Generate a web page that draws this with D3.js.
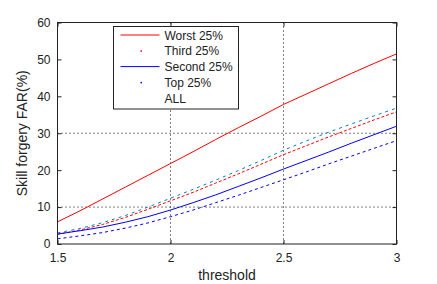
<!DOCTYPE html>
<html>
<head>
<meta charset="utf-8">
<script src="https://cdn.jsdelivr.net/npm/d3@7"></script>
<style>
  body { margin: 0; background: #fff; }
  text { font-family: "Liberation Sans", Arial, sans-serif; fill: #222; }
</style>
</head>
<body>
<svg id="chart" width="437" height="284"></svg>
<script>
// data
const thresholds = [1.5, 1.6, 1.7, 1.8, 1.9, 2.0, 2.1, 2.2, 2.3, 2.4, 2.5, 2.6, 2.7, 2.8, 2.9, 3.0];
const worst  = [6.0, 9.0, 12.2, 15.4, 18.6, 21.8, 25.0, 28.3, 31.5, 34.6, 37.8, 40.6, 43.4, 46.2, 48.9, 51.5];
const third  = [2.6, 3.8, 5.3, 7.2, 9.4, 11.7, 14.0, 16.5, 19.0, 21.6, 24.2, 26.6, 29.0, 31.3, 33.6, 35.8];
const second = [2.7, 3.6, 4.6, 5.9, 7.4, 9.2, 11.2, 13.3, 15.6, 17.9, 20.3, 22.6, 24.9, 27.3, 29.6, 31.9];
const top25  = [1.4, 2.2, 3.1, 4.3, 5.7, 7.4, 9.2, 11.2, 13.2, 15.3, 17.4, 19.5, 21.7, 23.8, 25.9, 28.0];
const all    = [3.0, 4.2, 5.8, 7.7, 10.0, 12.4, 14.8, 17.3, 19.9, 22.6, 25.4, 27.9, 30.3, 32.5, 34.7, 36.8];

const xTicks = [1.5, 2, 2.5, 3];
const yTicks = [0, 10, 20, 30, 40, 50, 60];
const xGrid = [2, 2.5];
const yGrid = [10, 30];

const series = [
    { name: 'Worst 25%',  values: worst,  color: '#ff0000', dash: null,  legend: 'line' },
    { name: 'Third 25%',  values: third,  color: '#ff0000', dash: '3,2', legend: 'dot' },
    { name: 'Second 25%', values: second, color: '#0000ff', dash: null,  legend: 'line' },
    { name: 'Top 25%',    values: top25,  color: '#0000ff', dash: '3,3', legend: 'dot' },
    { name: 'ALL',        values: all,    color: '#0080c0', dash: '3,4', legend: 'none' }
];

const svg = d3.select('#chart');
const margin = { top: 22.5, right: 40.5, bottom: 40, left: 57.5 };
const width = 437 - margin.left - margin.right;
const height = 284 - margin.top - margin.bottom;

const x = d3.scaleLinear().domain([1.5, 3]).range([0, width]);
const y = d3.scaleLinear().domain([0, 60]).range([height, 0]);

const g = svg.append('g')
    .attr('transform', `translate(${margin.left},${margin.top})`);

// dotted grid lines
g.selectAll('.gx').data(xGrid).enter().append('line')
    .attr('x1', d => x(d)).attr('x2', d => x(d))
    .attr('y1', 0).attr('y2', height)
    .attr('stroke', '#000').attr('stroke-width', 1).attr('stroke-dasharray', '1,3');
g.selectAll('.gy').data(yGrid).enter().append('line')
    .attr('x1', 0).attr('x2', width)
    .attr('y1', d => y(d)).attr('y2', d => y(d))
    .attr('stroke', '#000').attr('stroke-width', 1).attr('stroke-dasharray', '1,3');

// series lines
const line = d3.line()
    .x((d, i) => x(thresholds[i]))
    .y(d => y(d));

series.forEach(s => {
    g.append('path')
        .datum(s.values)
        .attr('d', line)
        .attr('fill', 'none')
        .attr('stroke', s.color)
        .attr('stroke-width', 1)
        .attr('stroke-dasharray', s.dash);
});

// axes (inward ticks on all sides)
function styleAxis(sel) {
    sel.select('.domain').remove();
    sel.selectAll('.tick line').attr('stroke', '#222');
    sel.selectAll('.tick text').attr('font-size', '12px').style('fill', '#222');
}
g.append('g')
    .attr('transform', `translate(0,${height})`)
    .call(d3.axisBottom(x).tickValues(xTicks).tickSizeInner(-4).tickSizeOuter(0).tickPadding(9).tickFormat(d3.format('')))
    .call(styleAxis);
g.append('g')
    .call(d3.axisTop(x).tickValues(xTicks).tickSizeInner(-4).tickSizeOuter(0).tickFormat(''))
    .call(styleAxis);
g.append('g')
    .call(d3.axisLeft(y).tickValues(yTicks).tickSizeInner(-4).tickSizeOuter(0).tickPadding(7))
    .call(styleAxis);
g.append('g')
    .attr('transform', `translate(${width},0)`)
    .call(d3.axisRight(y).tickValues(yTicks).tickSizeInner(-4).tickSizeOuter(0).tickFormat(''))
    .call(styleAxis);

// plot box
g.append('rect')
    .attr('width', width).attr('height', height)
    .attr('fill', 'none').attr('stroke', '#222').attr('stroke-width', 1);

// legend
const legend = g.append('g').attr('transform', 'translate(56,4)');
legend.append('rect')
    .attr('width', 125).attr('height', 82.5)
    .attr('fill', '#fff').attr('stroke', '#222').attr('stroke-width', 1);
series.forEach((s, i) => {
    const ly = 8.5 + i * 15.8;
    if (s.legend === 'line') {
        legend.append('line')
            .attr('x1', 7).attr('x2', 46).attr('y1', ly).attr('y2', ly)
            .attr('stroke', s.color).attr('stroke-width', 1);
    } else if (s.legend === 'dot') {
        legend.append('rect')
            .attr('x', 27).attr('y', ly - 0.5).attr('width', 1.5).attr('height', 1.5)
            .attr('fill', s.color);
    }
    legend.append('text')
        .attr('x', 51).attr('y', ly + 4.5)
        .attr('font-size', '12px')
        .text(s.name);
});

// axis titles
svg.append('text')
    .attr('transform', `translate(27,${margin.top + height / 2}) rotate(-90)`)
    .attr('text-anchor', 'middle')
    .attr('font-size', '14px')
    .text('Skill forgery FAR(%)');
svg.append('text')
    .attr('x', margin.left + width / 2)
    .attr('y', 280)
    .attr('text-anchor', 'middle')
    .attr('font-size', '14px')
    .text('threshold');
</script>
</body>
</html>
